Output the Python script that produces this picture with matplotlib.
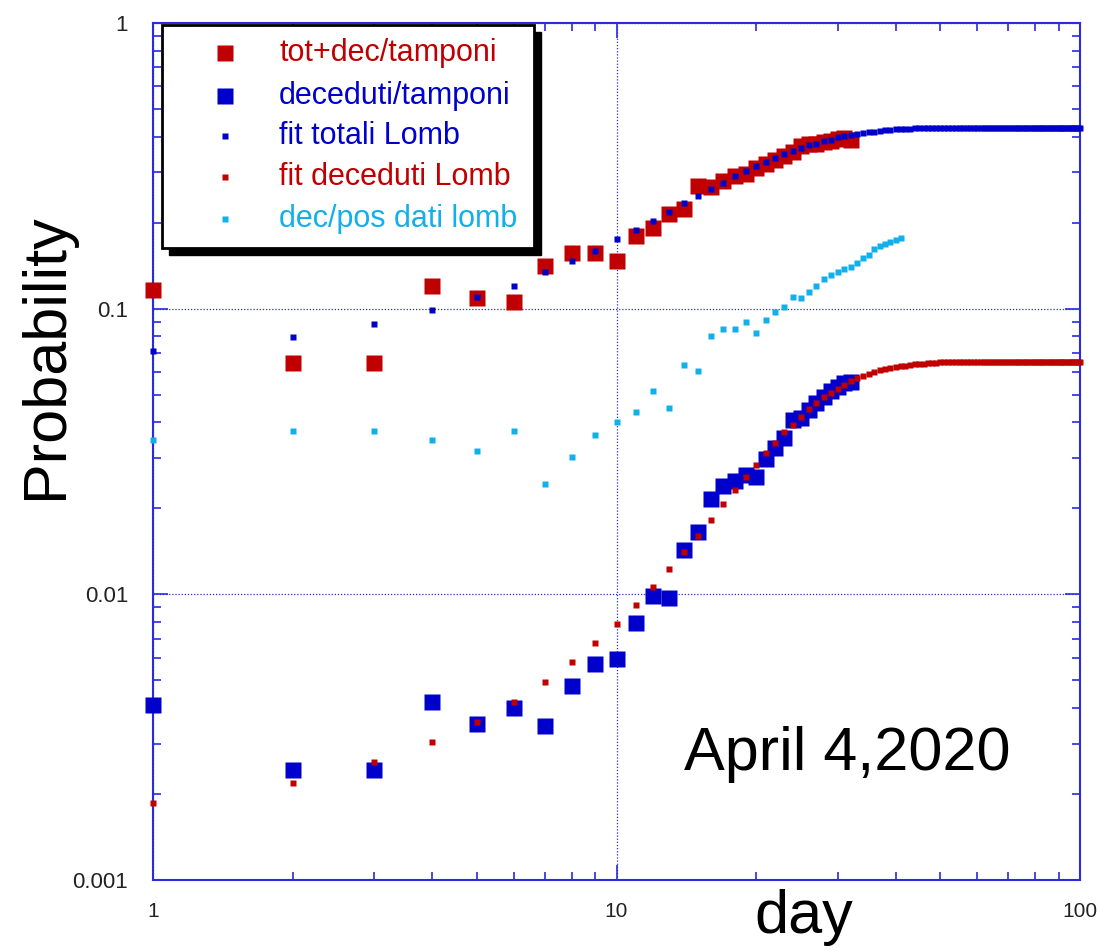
import matplotlib
matplotlib.use("Agg")
import matplotlib.pyplot as plt
from matplotlib.lines import Line2D
from matplotlib.patches import Rectangle
from matplotlib.ticker import FixedLocator, FixedFormatter, LogLocator, NullFormatter

plt.rcParams['font.family'] = ['Liberation Sans', 'DejaVu Sans']

# ---------------- data ----------------
days_obs = list(range(1, 33))
tot_dec_tamponi = [0.1163, 0.0646, 0.0646, 0.120, 0.109, 0.1056, 0.141, 0.1567,
                   0.1567, 0.147, 0.180, 0.192, 0.2145, 0.2234, 0.269, 0.267,
                   0.280, 0.291, 0.296, 0.311, 0.321, 0.3315, 0.342, 0.3536,
                   0.371, 0.377, 0.377, 0.383, 0.386, 0.393, 0.396, 0.390]
deceduti_tamponi = [0.0041, 0.00242, 0.00242, 0.00419, 0.00351, 0.00401, 0.00347, 0.00479,
                    0.00571, 0.00594, 0.00792, 0.0099, 0.00969, 0.0143, 0.0165, 0.0216,
                    0.0240, 0.0249, 0.0262, 0.0258, 0.0298, 0.0325, 0.0352, 0.0406,
                    0.0413, 0.0442, 0.0467, 0.0490, 0.0515, 0.0533, 0.0548, 0.0555]

days_fit = list(range(1, 101))
fit_totali = [0.0711, 0.0796, 0.0884, 0.0990, 0.1099, 0.1204, 0.1341, 0.1469, 0.1596, 0.1754,
              0.188, 0.2028, 0.218, 0.2344, 0.2485, 0.2624, 0.2761, 0.2914, 0.3034, 0.3166,
              0.3262, 0.3369, 0.3478, 0.3556, 0.3661, 0.3741, 0.378, 0.3864, 0.3896, 0.398,
              0.4022, 0.4055, 0.409, 0.412, 0.415, 0.417, 0.419, 0.421, 0.423, 0.424,
              0.425, 0.426, 0.427, 0.428, 0.428, 0.429, 0.429, 0.430, 0.430, 0.430,
              0.430, 0.430, 0.430, 0.430, 0.430, 0.430, 0.430, 0.430, 0.430, 0.430,
              0.430, 0.430, 0.430, 0.430, 0.430, 0.430, 0.430, 0.430, 0.430, 0.430,
              0.430, 0.430, 0.430, 0.430, 0.430, 0.430, 0.430, 0.430, 0.430, 0.430,
              0.430, 0.430, 0.430, 0.430, 0.430, 0.430, 0.430, 0.430, 0.430, 0.430,
              0.430, 0.430, 0.430, 0.430, 0.430, 0.430, 0.430, 0.430, 0.430, 0.430]
fit_deceduti = [0.00186, 0.00219, 0.00258, 0.00305, 0.00357, 0.00421, 0.00492, 0.00581, 0.00678, 0.00786,
                0.00918, 0.01064, 0.01227, 0.01404, 0.01605, 0.01821, 0.02067, 0.02314, 0.0257, 0.02844,
                0.0313, 0.0340, 0.0369, 0.0393, 0.0419, 0.0446, 0.0469, 0.0490, 0.0508, 0.0525,
                0.0542, 0.0560, 0.0571, 0.0583, 0.0591, 0.0600, 0.0609, 0.0615, 0.0620, 0.0625,
                0.0629, 0.0632, 0.0635, 0.0638, 0.0640, 0.0642, 0.0644, 0.0646, 0.0647, 0.0648,
                0.0649, 0.0649, 0.0649, 0.0649, 0.0649, 0.0649, 0.0649, 0.0649, 0.0649, 0.0649,
                0.0649, 0.0649, 0.0649, 0.0649, 0.0649, 0.0649, 0.0649, 0.0649, 0.0649, 0.0649,
                0.0649, 0.0649, 0.0649, 0.0649, 0.0649, 0.0649, 0.0649, 0.0649, 0.0649, 0.0649,
                0.0649, 0.0649, 0.0649, 0.0649, 0.0649, 0.0649, 0.0649, 0.0649, 0.0649, 0.0649,
                0.0649, 0.0649, 0.0649, 0.0649, 0.0649, 0.0649, 0.0649, 0.0649, 0.0649, 0.0649]

days_decpos = list(range(1, 42))
dec_pos_lomb = [0.0347, 0.0373, 0.0373, 0.0347, 0.0318, 0.0373, 0.0243, 0.0303, 0.0361, 0.0400,
                0.0436, 0.0515, 0.0450, 0.0633, 0.0607, 0.0804, 0.0847, 0.0847, 0.0900, 0.0820,
                0.0911, 0.0970, 0.1011, 0.1099, 0.1088, 0.1144, 0.1204, 0.1271, 0.1309, 0.1347,
                0.1380, 0.1400, 0.1442, 0.150, 0.1545, 0.1614, 0.1661, 0.1684, 0.1716, 0.1740,
                0.1764]

labels = ["tot+dec/tamponi", "deceduti/tamponi", "fit totali Lomb",
          "fit deceduti Lomb", "dec/pos dati lomb"]
y_ticks = [0.001, 0.01, 0.1, 1]
y_ticklabels = ["0.001", "0.01", "0.1", "1"]
x_ticks = [1, 10, 100]
x_ticklabels = ["1", "10", "100"]

RED = "#c00000"
BLUE = "#0000cc"
LBLUE = "#12b0ea"
AXC = "#2a2ae0"

# ---------------- figure ----------------
W, H = 1101, 951
fig = plt.figure(figsize=(W / 100, H / 100), dpi=100)
L, R, T, B = 153, 1080, 23, 880
ax = fig.add_axes([L / W, 1 - B / H, (R - L) / W, (B - T) / H])
ax.set_xscale('log')
ax.set_yscale('log')
ax.set_xlim(1, 100)
ax.set_ylim(0.001, 1)

BIG = 12.2
SMALL = 4.0
ax.plot(days_obs, tot_dec_tamponi, 's', color=RED, ms=BIG, mec='none', clip_on=False, zorder=3)
ax.plot(days_obs, deceduti_tamponi, 's', color=BLUE, ms=BIG, mec='none', clip_on=False, zorder=3)
ax.plot(days_fit, fit_totali, 's', color=BLUE, ms=SMALL, mec='none', clip_on=False, zorder=4)
ax.plot(days_fit, fit_deceduti, 's', color=RED, ms=SMALL, mec='none', clip_on=False, zorder=4)
ax.plot(days_decpos, dec_pos_lomb, 's', color=LBLUE, ms=SMALL, mec='none', clip_on=False, zorder=4)

for s in ax.spines.values():
    s.set_color(AXC)
    s.set_linewidth(1.5)

ax.yaxis.set_major_locator(FixedLocator(y_ticks))
ax.yaxis.set_major_formatter(FixedFormatter(y_ticklabels))
ax.xaxis.set_major_locator(FixedLocator(x_ticks))
ax.xaxis.set_major_formatter(FixedFormatter(x_ticklabels))
ax.xaxis.set_minor_locator(LogLocator(base=10, subs=range(2, 10)))
ax.yaxis.set_minor_locator(LogLocator(base=10, subs=range(2, 10)))
ax.xaxis.set_minor_formatter(NullFormatter())
ax.yaxis.set_minor_formatter(NullFormatter())

ax.tick_params(which='both', direction='in', top=True, right=True, color=AXC, width=1.2)
ax.tick_params(which='major', length=11)
ax.tick_params(which='minor', length=5.5)
ax.tick_params(axis='y', which='major', pad=18, labelsize=16, labelcolor='#222222')
ax.tick_params(axis='x', which='major', pad=16, labelsize=15, labelcolor='#222222')
for lab in ax.get_xticklabels():
    lab.set_family(['Liberation Sans Narrow', 'Liberation Sans'])

ax.grid(which='major', linestyle=(0, (1, 1.5)), color=AXC, linewidth=0.9)

# axis labels
fig.text(46 / W, 1 - 356 / H, "Probability", rotation=90, ha='center', va='center',
         fontsize=44, color='black')
fig.text(804 / W, 1 - 933 / H, "day", ha='center', va='baseline', fontsize=44, color='black')

# annotation
fig.text(684 / W, 1 - 770 / H, "April 4,2020", ha='left', va='baseline', fontsize=44, color='black')

# ---------------- legend (drawn box with shadow) ----------------
def fx(px):
    return px / W

def fy(py):
    return 1 - py / H

bx0, by0, bx1, by1 = 162, 25, 534, 248
fig.add_artist(Rectangle((fx(bx0 + 7), fy(by1 + 7)), (bx1 - bx0) / W, (by1 - by0) / H,
                         transform=fig.transFigure, facecolor='black', edgecolor='black',
                         zorder=10))
fig.add_artist(Rectangle((fx(bx0), fy(by1)), (bx1 - bx0) / W, (by1 - by0) / H,
                         transform=fig.transFigure, facecolor='white', edgecolor='black',
                         linewidth=2, zorder=11))
rows_y = [53, 96, 136, 177, 219]
colors = [RED, BLUE, BLUE, RED, LBLUE]
sizes = [BIG, BIG, SMALL, SMALL, SMALL]
for lab, c, sz, ry in zip(labels, colors, sizes, rows_y):
    fig.add_artist(Line2D([fx(225)], [fy(ry)], marker='s', color=c, ms=sz, mec='none',
                          linestyle='none', transform=fig.transFigure, zorder=12))
    fig.text(fx(279), fy(ry), lab, ha='left', va='center', fontsize=22, color=c, zorder=12)

fig.savefig("out.png", dpi=100)
